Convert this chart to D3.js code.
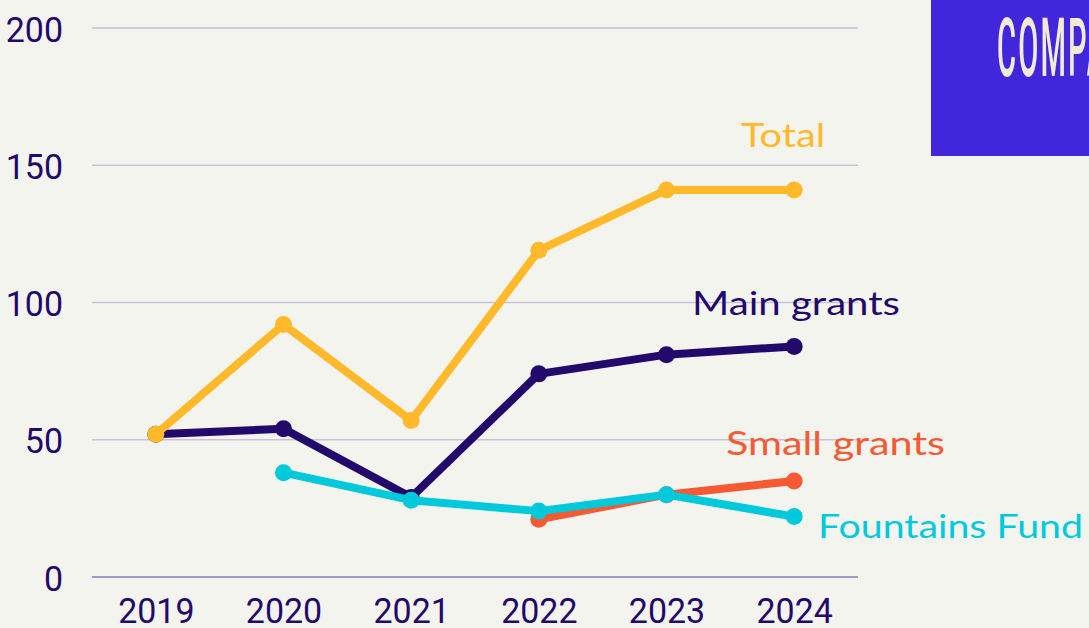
<!DOCTYPE html>
<html>
<head>
<meta charset="utf-8">
<script src="https://cdnjs.cloudflare.com/ajax/libs/d3/7.8.5/d3.min.js"></script>
<style>
  html, body { margin: 0; padding: 0; background: #f4f4ef; overflow: hidden; }
</style>
</head>
<body>
<div id="chart"></div>
<script>
// data
var years = ["2019", "2020", "2021", "2022", "2023", "2024"];
var yTicks = [0, 50, 100, 150, 200];
var total = [52, 92, 57, 119, 141, 141];
var mainGrants = [52, 54, 29, 74, 81, 84];
var smallGrants = [null, null, null, 21, 30, 35];
var fountainsFund = [null, 38, 28, 24, 30, 22];
var seriesNames = ["Main grants", "Small grants", "Fountains Fund", "Total"];

var W = 1089, H = 628;
var margin = {top: 28, right: 231, bottom: 51, left: 92};
var width = W - margin.left - margin.right;
var height = H - margin.top - margin.bottom;

var svg = d3.select("#chart").append("svg")
  .attr("width", W)
  .attr("height", H)
  .style("display", "block");

svg.append("rect").attr("width", W).attr("height", H).attr("fill", "#f4f4ef");

// title box on the right, cut by the page edge
svg.append("rect")
  .attr("x", 931).attr("y", 0)
  .attr("width", W - 931).attr("height", 156)
  .attr("fill", "#4226dc");
svg.append("text")
  .attr("transform", "translate(997,76) scale(0.36,1)")
  .attr("font-family", "Roboto")
  .attr("font-weight", 500)
  .attr("font-size", 81)
  .attr("fill", "#f1ebd3")
  .attr("letter-spacing", 6)
  .text("COMPARISON");

var g = svg.append("g")
  .attr("transform", "translate(" + margin.left + "," + margin.top + ")");

var x = d3.scalePoint().domain(years).range([0, width]).padding(0.5);
var y = d3.scaleLinear().domain([0, 200]).range([height, 0]);

// grid
g.selectAll(".grid").data(yTicks).enter().append("line")
  .attr("x1", 0).attr("x2", width)
  .attr("y1", function(d) { return y(d); })
  .attr("y2", function(d) { return y(d); })
  .attr("stroke", function(d) { return d === 0 ? "#8a7db8" : "#c6c1dc"; })
  .attr("stroke-width", 1.5);

// y axis labels
var yAxis = g.append("g")
  .call(d3.axisLeft(y).tickValues(yTicks).tickSize(0).tickPadding(0));
yAxis.select(".domain").remove();
yAxis.selectAll("text")
  .attr("x", null)
  .attr("dy", null)
  .attr("text-anchor", "end")
  .attr("dominant-baseline", "central")
  .attr("transform", "translate(-29,1) scale(0.97,1)")
  .attr("font-family", "Roboto")
  .attr("font-size", 35)
  .attr("fill", "#22096b");

// x axis labels
var xAxis = g.append("g")
  .attr("transform", "translate(0," + height + ")")
  .call(d3.axisBottom(x).tickSize(0).tickPadding(0));
xAxis.select(".domain").remove();
xAxis.selectAll("text")
  .attr("y", null)
  .attr("dy", null)
  .attr("transform", "translate(0,46) scale(0.97,1)")
  .attr("font-family", "Roboto")
  .attr("font-size", 35)
  .attr("fill", "#22096b");

var series = [
  {name: seriesNames[1], values: smallGrants, color: "#f55a32", lx: 726, ly: 455},
  {name: seriesNames[0], values: mainGrants, color: "#22096b", lx: 692, ly: 315},
  {name: seriesNames[2], values: fountainsFund, color: "#00c9db", lx: 818, ly: 538},
  {name: seriesNames[3], values: total, color: "#ffb92a", lx: 741, ly: 147}
];
var labelWidths = {"Total": 84, "Main grants": 208, "Small grants": 219, "Fountains Fund": 265};

var line = d3.line()
  .defined(function(d) { return d.v !== null; })
  .x(function(d) { return x(d.year); })
  .y(function(d) { return y(d.v); });

series.forEach(function(s) {
  var pts = years.map(function(yr, i) { return {year: yr, v: s.values[i]}; });
  g.append("path")
    .datum(pts)
    .attr("d", line)
    .attr("fill", "none")
    .attr("stroke", s.color)
    .attr("stroke-width", 8)
    .attr("stroke-linejoin", "round");
  g.selectAll(null)
    .data(pts.filter(function(d) { return d.v !== null; }))
    .enter().append("circle")
    .attr("cx", function(d) { return x(d.year); })
    .attr("cy", function(d) { return y(d.v); })
    .attr("r", 8.5)
    .attr("fill", s.color);
});

// series labels
series.forEach(function(s) {
  svg.append("text")
    .attr("x", s.lx)
    .attr("y", s.ly)
    .attr("font-family", "Lato")
    .attr("font-size", 32)
    .attr("textLength", labelWidths[s.name])
    .attr("lengthAdjust", "spacingAndGlyphs")
    .attr("fill", s.color)
    .text(s.name);
});
</script>
</body>
</html>
